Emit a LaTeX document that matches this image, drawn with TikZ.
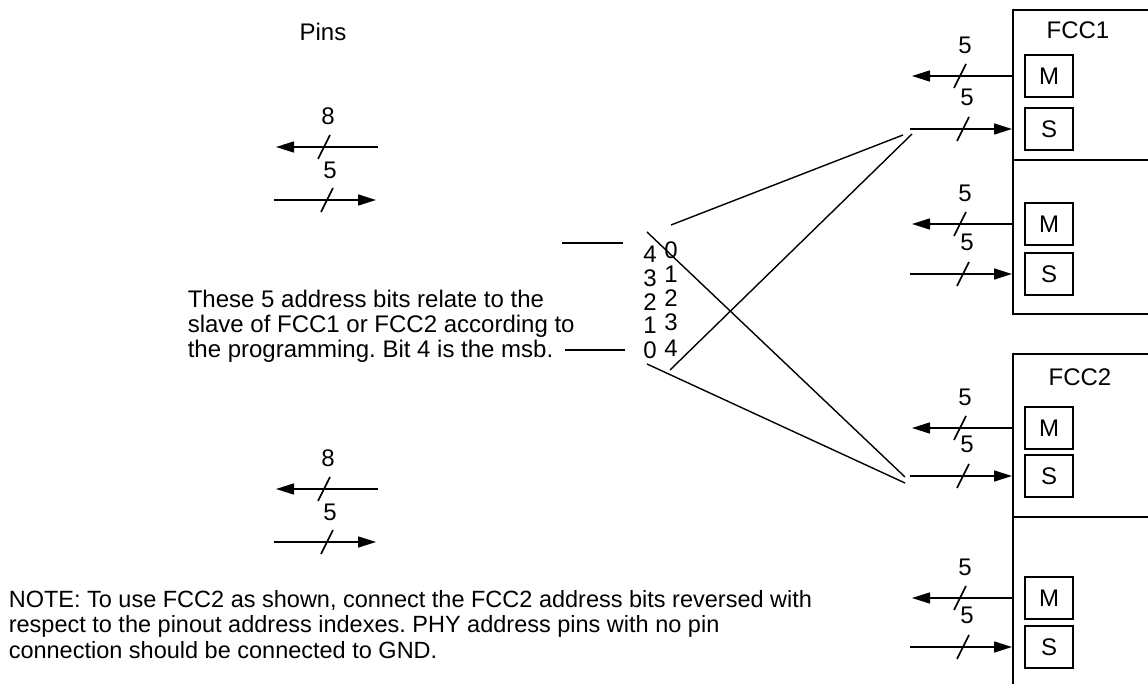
\documentclass[tikz,border=0pt]{standalone}
\usepackage{fontspec}
\setmainfont{Liberation Sans}
\usetikzlibrary{arrows.meta}
\frenchspacing
\begin{document}
\begin{tikzpicture}[x=1pt,y=-1pt,line width=1.6pt,
  txt/.style={font=\fontsize{24}{24}\selectfont, inner sep=0pt},
  notetxt/.style={font=\fontsize{23.5}{24}\selectfont, inner sep=0pt},
  arr/.style={-{Triangle[length=18pt,width=11pt]}},
  msbox/.style={draw, minimum width=48pt, minimum height=42pt, inner sep=0pt, font=\fontsize{24}{24}\selectfont},
  thin/.style={line width=1.4pt}]
\useasboundingbox (0,0) rectangle (1148,684);

% Pins column
\node[txt] (pins) at (323,32) {Pins};
\foreach \i/\ya/\yb in {1/147/200, 2/489/542}{
  \coordinate (pa\i) at (378,\ya);
  \coordinate (pb\i) at (276,\ya);
  \draw[arr] (pa\i) -- (pb\i);
  \draw (330,\ya-12) -- (318,\ya+12);
  \node[txt] (p8\i) at (328,\ya-31) {8};
  \coordinate (pc\i) at (274,\yb);
  \coordinate (pd\i) at (376,\yb);
  \draw[arr] (pc\i) -- (pd\i);
  \draw (333,\yb-12) -- (321,\yb+12);
  \node[txt] (p5\i) at (330,\yb-30) {5};
}

% Address text
\node[txt,anchor=base west] (t1) at (187,308) {These 5 address bits relate to the};
\node[txt,anchor=base west] (t2) at (187,333) {slave of FCC1 or FCC2 according to};
\node[txt,anchor=base west] (t3) at (187,358) {the programming. Bit 4 is the msb.};
\coordinate (h1a) at (562,243); \coordinate (h1b) at (623,243);
\coordinate (h2a) at (565,350); \coordinate (h2b) at (625,350);
\draw[thin] (h1a) -- (h1b);
\draw[thin] (h2a) -- (h2b);

% bit numbers
\foreach \n/\y in {4/254,3/278,2/302,1/325,0/350}{\node[txt] (l\n) at (650,\y) {\n};}
\foreach \n/\y in {0/250,1/274,2/298,3/322,4/348}{\node[txt] (r\n) at (671,\y) {\n};}

% crossing wires
\coordinate (ca) at (647,232); \coordinate (cb) at (671,225);
\coordinate (cc) at (670,370); \coordinate (cd) at (647,364);
\coordinate (s1) at (903,135); \coordinate (s1b) at (912,134);
\coordinate (s2) at (905,477); \coordinate (s2b) at (905,483);
\draw[thin] (ca) -- (s2);
\draw[thin] (cb) -- (s1);
\draw[thin] (cc) -- (s1b);
\draw[thin] (cd) -- (s2b);

% FCC blocks
\draw (1148,10) -- (1013,10) -- (1013,314) -- (1148,314);
\draw (1013,160) -- (1148,160);
\draw (1148,354) -- (1013,354) -- (1013,684);
\draw (1013,517) -- (1148,517);
\node[txt] (fcc1) at (1078,30) {FCC1};
\node[txt] (fcc2) at (1080,377) {FCC2};

\foreach \i/\ym/\ys in {1/76/129, 2/224/274, 3/428/476, 4/598/647}{
  \node[msbox] (m\i) at (1049,\ym) {M};
  \node[msbox] (s\i) at (1049,\ys) {S};
  \coordinate (em\i) at (1013,\ym);
  \coordinate (fm\i) at (912,\ym);
  \draw[arr] (em\i) -- (fm\i);
  \draw (966,\ym-12) -- (954,\ym+12);
  \node[txt] (lm\i) at (965,\ym-31) {5};
  \coordinate (fs\i) at (910,\ys);
  \coordinate (es\i) at (1012,\ys);
  \draw[arr] (fs\i) -- (es\i);
  \draw (969,\ys-12) -- (957,\ys+12);
  \node[txt] (ls\i) at (967,\ys-32) {5};
}

% Note
\node[notetxt,anchor=base west] (n1) at (8,607) {NOTE: To use FCC2 as shown, connect the FCC2 address bits reversed with};
\node[notetxt,anchor=base west] (n2) at (8,632.5) {respect to the pinout address indexes. PHY address pins with no pin};
\node[notetxt,anchor=base west] (n3) at (8,658) {connection should be connected to GND.};
\end{tikzpicture}
\end{document}
